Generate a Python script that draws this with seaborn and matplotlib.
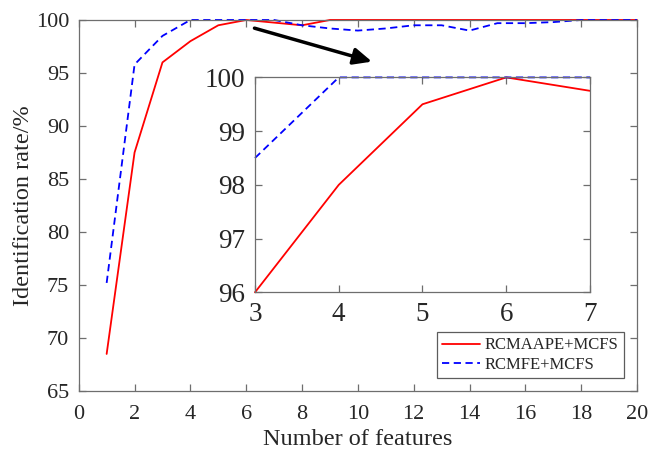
import numpy as np
import pandas as pd
import matplotlib
matplotlib.use("Agg")
import matplotlib.pyplot as plt
import seaborn as sns

features = list(range(1, 21))
rcmaape = [68.5, 87.5, 96.0, 98.0, 99.5, 100.0, 99.75, 99.5, 100.0, 100.0,
           100.0, 100.0, 100.0, 100.0, 100.0, 100.0, 100.0, 100.0, 100.0, 100.0]
rcmfe = [75.2, 95.8, 98.5, 100.0, 100.0, 100.0, 100.0, 99.5, 99.2, 99.0,
         99.2, 99.5, 99.5, 99.0, 99.7, 99.7, 99.8, 100.0, 100.0, 100.0]
labels = ["RCMAAPE+MCFS", "RCMFE+MCFS"]

df = pd.DataFrame({"x": features * 2,
                   "y": rcmaape + rcmfe,
                   "method": [labels[0]] * 20 + [labels[1]] * 20})

sns.set_style("ticks")
plt.rcParams["font.family"] = ["Liberation Serif", "DejaVu Serif"]

palette = {labels[0]: "#ff0000", labels[1]: "#0000ff"}
dashes = {labels[0]: "", labels[1]: (4, 2.5)}
spine_col = "#6e6e6e"


def style_axes(ax, size):
    for s in ax.spines.values():
        s.set_visible(True)
        s.set_color(spine_col)
        s.set_linewidth(0.9)
    ax.tick_params(direction="in", top=True, right=True, bottom=True, left=True,
                   length=5, width=0.9, color=spine_col, labelsize=size, pad=7)
    for ln in ax.get_lines():
        ln.set_clip_on(False)


fig = plt.figure(figsize=(6.48, 4.5), dpi=100)
ax = fig.add_axes([0.1215, 0.131, 0.8615, 0.8246])
sns.lineplot(data=df, x="x", y="y", hue="method", style="method",
             palette=palette, dashes=dashes, ax=ax, linewidth=1.3)
ax.set_xlim(0, 20)
ax.set_ylim(65, 100)
ax.set_xticks(range(0, 21, 2))
ax.set_yticks(range(65, 101, 5))
ax.set_xlabel("Number of features", fontsize=17.5, labelpad=4)
ax.set_ylabel("Identification rate/%", fontsize=17.5, labelpad=1)
style_axes(ax, 16)
ax.tick_params(axis="x", pad=10)

leg = ax.legend(loc="lower right", fontsize=12, frameon=True, fancybox=False,
                handlelength=2.3, handletextpad=0.3, borderpad=0.3,
                labelspacing=0.2, borderaxespad=0.8)
leg.get_frame().set_edgecolor("#333333")
leg.get_frame().set_linewidth(0.9)

ax.annotate("", xy=(10.6, 96.0), xytext=(6.2, 99.3),
            arrowprops=dict(arrowstyle="-|>,head_length=1.1,head_width=0.5",
                            color="black", lw=2.5))

# zoomed inset
sub = df[(df["x"] >= 3) & (df["x"] <= 7)]
axin = fig.add_axes([0.3935, 0.3504, 0.517, 0.4776])
sns.lineplot(data=sub, x="x", y="y", hue="method", style="method",
             palette=palette, dashes=dashes, ax=axin, linewidth=1.3,
             legend=False)
axin.set_xlim(3, 7)
axin.set_ylim(96, 100)
axin.set_xticks(range(3, 8))
axin.set_yticks(range(96, 101))
axin.set_xlabel("")
axin.set_ylabel("")
style_axes(axin, 19.5)

fig.savefig("out.png", dpi=100)
